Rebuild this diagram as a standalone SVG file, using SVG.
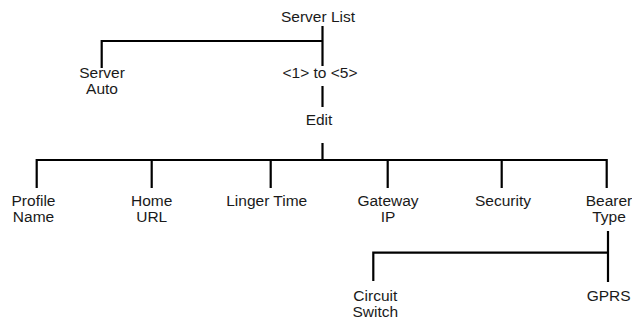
<svg xmlns="http://www.w3.org/2000/svg" width="632" height="320" viewBox="0 0 632 320">
<style>
text{font-family:"Liberation Sans",Arial,sans-serif;font-size:15.5px;fill:#1a1a1a;text-anchor:middle}
.c path{stroke:#000;stroke-width:2.2;fill:none}
</style>
<rect width="632" height="320" fill="#fff"/>
<g class="c" id="connectors">
<path d="M322.5 26 V66 M101.7 41 H322.5 M101.7 40 V68"/>
<path d="M322.5 86 V107"/>
<path d="M322.5 143 V160 M36.7 160 H606.7 M36.7 159 V188 M151.7 159 V188 M270.7 159 V188 M387.7 159 V188 M501.7 159 V188 M606.7 159 V188"/>
<path d="M608 231 V282 M373.3 252.7 H608 M373.3 251.6 V281"/>
</g>
<g id="server-list"><text x="318" y="21.5">Server List</text></g>
<g id="server-auto"><text x="102" y="77.5">Server</text><text x="102" y="93.5">Auto</text></g>
<g id="range"><text x="320" y="77.5">&lt;1&gt; to &lt;5&gt;</text></g>
<g id="edit"><text x="319" y="125">Edit</text></g>
<g id="profile-name"><text x="33.5" y="205.5">Profile</text><text x="33.5" y="222">Name</text></g>
<g id="home-url"><text x="151.7" y="205.5">Home</text><text x="151.7" y="222">URL</text></g>
<g id="linger-time"><text x="266.7" y="205.5">Linger Time</text></g>
<g id="gateway-ip"><text x="388" y="205.5">Gateway</text><text x="388" y="222">IP</text></g>
<g id="security"><text x="503" y="205.5">Security</text></g>
<g id="bearer-type"><text x="609" y="205.5">Bearer</text><text x="609" y="222">Type</text></g>
<g id="circuit-switch"><text x="375.3" y="300.5">Circuit</text><text x="375.3" y="316.5">Switch</text></g>
<g id="gprs"><text x="608.7" y="300.5">GPRS</text></g>
</svg>
